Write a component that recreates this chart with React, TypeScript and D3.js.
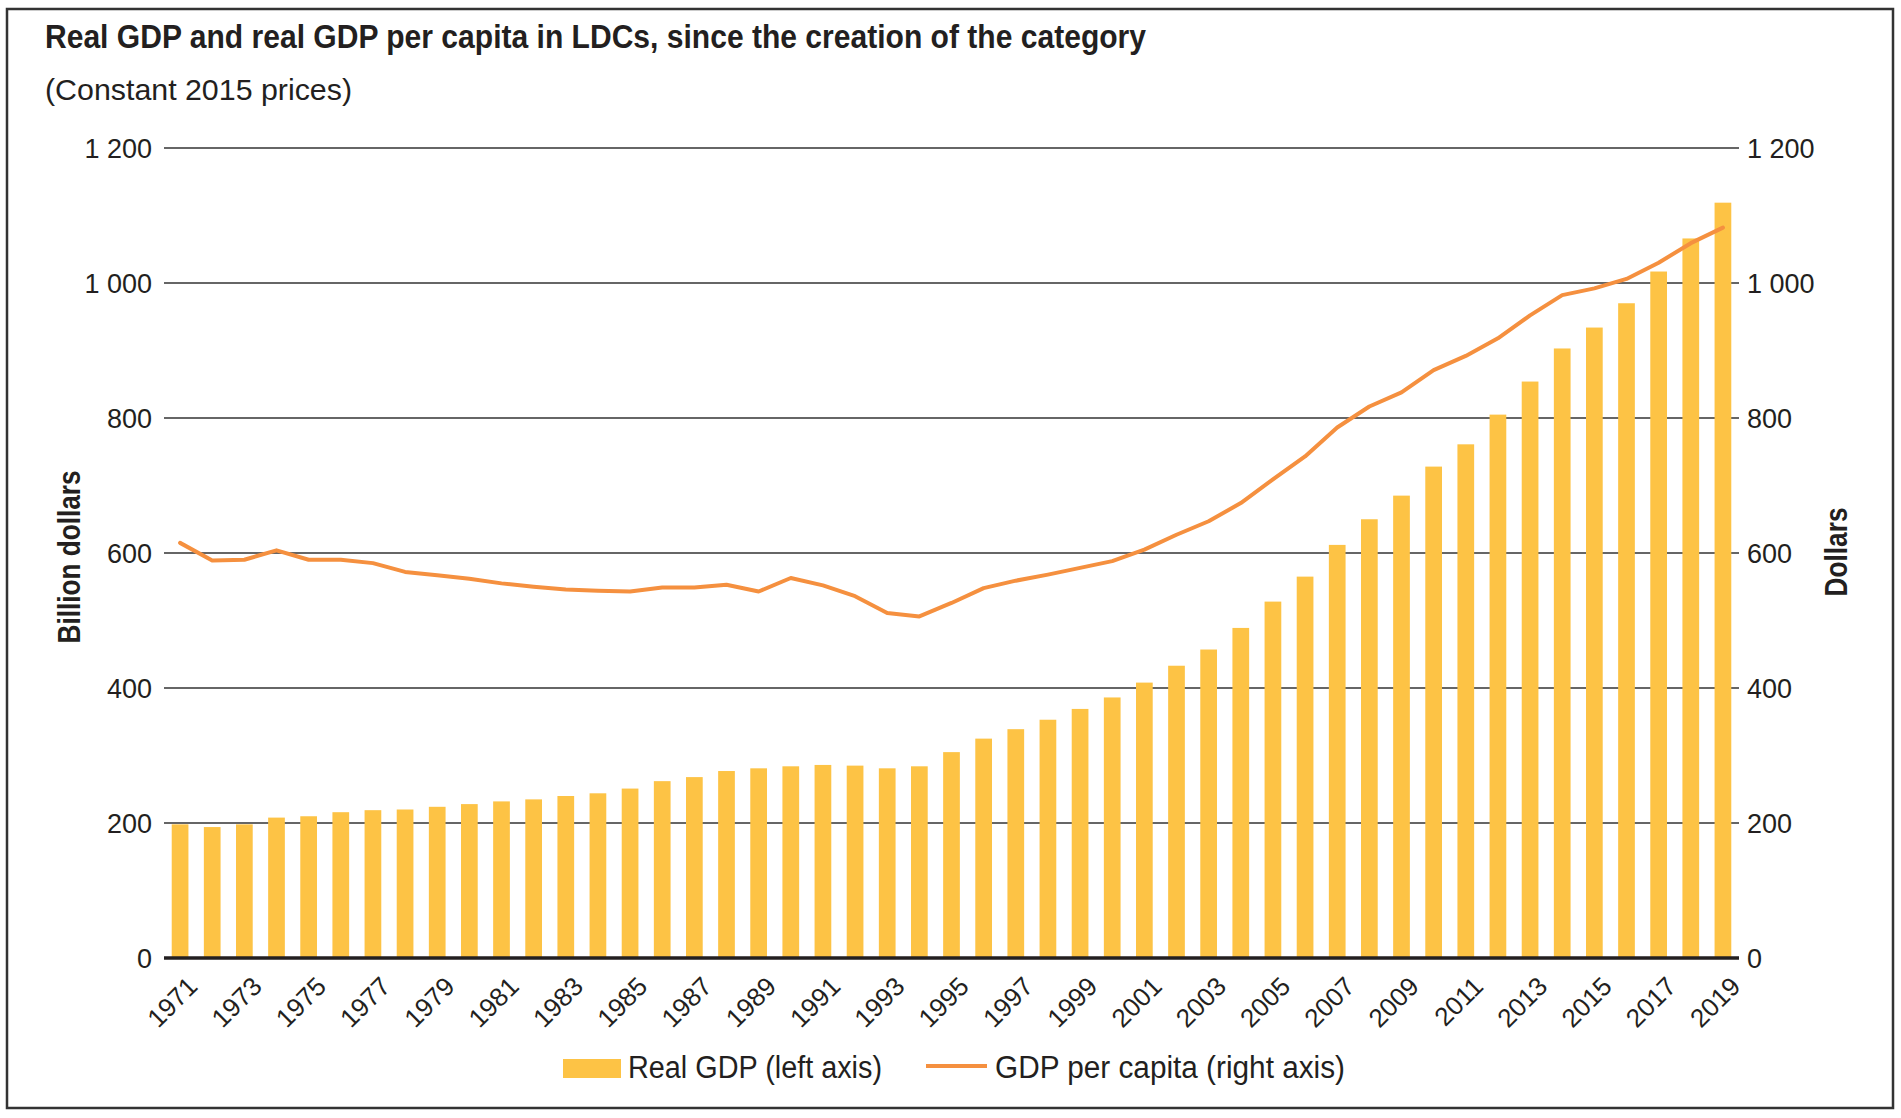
import React, { useEffect } from 'react';
import * as d3 from 'd3';

const years: number[] = [
  1971, 1972, 1973, 1974, 1975, 1976, 1977, 1978, 1979, 1980,
  1981, 1982, 1983, 1984, 1985, 1986, 1987, 1988, 1989, 1990,
  1991, 1992, 1993, 1994, 1995, 1996, 1997, 1998, 1999, 2000,
  2001, 2002, 2003, 2004, 2005, 2006, 2007, 2008, 2009, 2010,
  2011, 2012, 2013, 2014, 2015, 2016, 2017, 2018, 2019,
];

// Real GDP, billion dollars (left axis)
const realGdp: number[] = [
  198, 194, 198, 208, 210, 216, 219, 220, 224, 228,
  232, 235, 240, 244, 251, 262, 268, 277, 281, 284,
  286, 285, 281, 284, 305, 325, 339, 353, 369, 386,
  408, 433, 457, 489, 528, 565, 612, 650, 685, 728,
  761, 805, 854, 903, 934, 970, 1017, 1066, 1119,
];

// GDP per capita, dollars (right axis)
const gdpPerCapita: number[] = [
  615, 589, 590, 604, 590, 590, 585, 572, 567, 562,
  555, 550, 546, 544, 543, 549, 549, 553, 543, 563,
  552, 536, 511, 506, 526, 548, 559, 568, 578, 588,
  605, 627, 647, 674, 709, 743, 786, 817, 838, 871,
  892, 918, 952, 982, 992, 1006, 1030, 1059, 1082,
];

const yTicks: number[] = [0, 200, 400, 600, 800, 1000, 1200];
const xLabelYears: number[] = years.filter((y) => (y - 1971) % 2 === 0);

const title = 'Real GDP and real GDP per capita in LDCs, since the creation of the category';
const subtitle = '(Constant 2015 prices)';
const leftAxisTitle = 'Billion dollars';
const rightAxisTitle = 'Dollars';
const legendBar = 'Real GDP (left axis)';
const legendLine = 'GDP per capita (right axis)';

const W = 1901;
const H = 1118;
const plotLeft = 164;
const plotRight = 1739;
const plotTop = 148;
const plotBottom = 958;

const BAR = '#FDC345';
const LINE = '#F5903F';
const INK = '#231F20';
const FONT = "'Liberation Sans', Arial, Helvetica, sans-serif";
const NARROW = "'Liberation Sans Narrow', 'Liberation Sans', Arial, sans-serif";

const fmt = (v: number) => {
  const s = String(v);
  return s.length > 3 ? s.slice(0, s.length - 3) + ' ' + s.slice(s.length - 3) : s;
};

export default function App() {
  useEffect(() => {
    document.body.style.margin = '0';
  }, []);

  const x = d3
    .scaleBand<number>()
    .domain(years)
    .range([plotLeft, plotRight])
    .paddingInner(0.48)
    .paddingOuter(0.24);
  const yLeft = d3.scaleLinear().domain([0, 1200]).range([plotBottom, plotTop]);
  const yRight = d3.scaleLinear().domain([0, 1200]).range([plotBottom, plotTop]);

  const cx = (yr: number) => (x(yr) as number) + x.bandwidth() / 2;

  const lineGen = d3
    .line<number>()
    .x((_, i) => cx(years[i]))
    .y((d) => yRight(d));

  return (
    <svg
      width={W}
      height={H}
      viewBox={`0 0 ${W} ${H}`}
      style={{ position: 'absolute', left: 0, top: 0, display: 'block', background: '#fff' }}
      fontFamily={FONT}
    >
      <rect x={0} y={0} width={W} height={H} fill="#fff" />
      <rect x={7} y={9} width={1886} height={1099} fill="none" stroke="#333" strokeWidth={2.5} />

      <text x={45} y={48} fontFamily={NARROW} fontWeight="bold" fontSize={33} fill={INK}
        textLength={1101} lengthAdjust="spacingAndGlyphs">{title}</text>
      <text x={45} y={100} fontFamily={NARROW} fontSize={30} fill={INK}
        textLength={307} lengthAdjust="spacingAndGlyphs">{subtitle}</text>

      {/* gridlines */}
      {yTicks.filter((t) => t > 0).map((t) => (
        <line key={'g' + t} x1={plotLeft} x2={plotRight} y1={yLeft(t)} y2={yLeft(t)}
          stroke="#333" strokeWidth={1.5} />
      ))}

      {/* bars */}
      {years.map((yr, i) => (
        <rect key={'b' + yr} x={x(yr)} y={yLeft(realGdp[i])} width={x.bandwidth()}
          height={yLeft(0) - yLeft(realGdp[i])} fill={BAR} />
      ))}

      {/* zero axis */}
      <line x1={plotLeft} x2={plotRight} y1={yLeft(0)} y2={yLeft(0)} stroke={INK} strokeWidth={3.5} />

      {/* line */}
      <path d={lineGen(gdpPerCapita) || ''} fill="none" stroke={LINE} strokeWidth={4}
        strokeLinejoin="round" strokeLinecap="round" />

      {/* left tick labels */}
      {yTicks.map((t) => (
        <text key={'l' + t} x={152} y={yLeft(t) + 10} textAnchor="end" fontSize={27} fill={INK}>
          {fmt(t)}
        </text>
      ))}
      {/* right tick labels */}
      {yTicks.map((t) => (
        <text key={'r' + t} x={1747} y={yRight(t) + 10} textAnchor="start" fontSize={27} fill={INK}>
          {fmt(t)}
        </text>
      ))}

      {/* x labels */}
      {xLabelYears.map((yr) => (
        <text key={'x' + yr} transform={`translate(${cx(yr) + 19},${988}) rotate(-45)`}
          textAnchor="end" fontSize={26} fill={INK}>
          {yr}
        </text>
      ))}

      {/* axis titles */}
      <text transform={`translate(80,557) rotate(-90)`} textAnchor="middle" fontFamily={NARROW}
        fontWeight="bold" fontSize={31} fill={INK} textLength={173} lengthAdjust="spacingAndGlyphs">
        {leftAxisTitle}
      </text>
      <text transform={`translate(1847,552) rotate(-90)`} textAnchor="middle" fontFamily={NARROW}
        fontWeight="bold" fontSize={31} fill={INK} textLength={89} lengthAdjust="spacingAndGlyphs">
        {rightAxisTitle}
      </text>

      {/* legend */}
      <rect x={563} y={1059} width={58} height={19} fill={BAR} />
      <text x={628} y={1078} fontFamily={NARROW} fontSize={31} fill={INK}
        textLength={254} lengthAdjust="spacingAndGlyphs">{legendBar}</text>
      <line x1={926} x2={987} y1={1066} y2={1066} stroke={LINE} strokeWidth={4} />
      <text x={995} y={1078} fontFamily={NARROW} fontSize={31} fill={INK}
        textLength={350} lengthAdjust="spacingAndGlyphs">{legendLine}</text>
    </svg>
  );
}
